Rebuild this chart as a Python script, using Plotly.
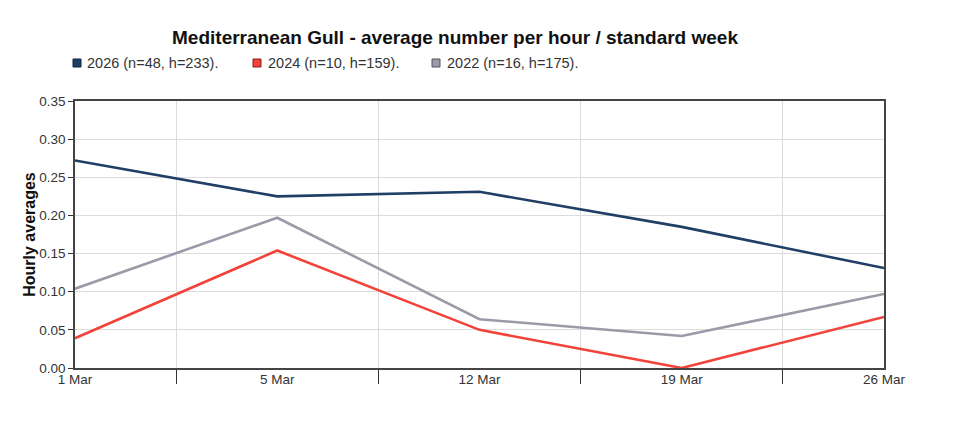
import plotly.graph_objects as go

weeks = ["1 Mar", "5 Mar", "12 Mar", "19 Mar", "26 Mar"]
y2026 = [0.272, 0.225, 0.231, 0.185, 0.131]
y2024 = [0.039, 0.154, 0.050, 0.000, 0.067]
y2022 = [0.104, 0.197, 0.064, 0.042, 0.097]
names = ["2026 (n=48, h=233).", "2024 (n=10, h=159).", "2022 (n=16, h=175)."]
colors = ["#1f3f66", "#f2433a", "#9a9aa8"]
edge = ["#0f2540", "#8a1a12", "#55555f"]
series = [y2026, y2024, y2022]

FONT = "Liberation Sans, Arial, sans-serif"

# page pixel geometry (figure sits at an 8px body offset)
OFF = 8
PL, PR, PT, PB = 75, 884, 101, 368
W, H = 955, 444
def px(x):
    return (x - PL) / (PR - PL)
def py(y):
    return (PB - y) / (PB - PT)

fig = go.Figure()
for vals, c, n in zip(series, colors, names):
    fig.add_trace(go.Scatter(x=weeks, y=vals, mode="lines", name=n,
                             line=dict(color=c, width=2.6),
                             showlegend=False))

fig.update_layout(
    width=W, height=H,
    margin=dict(l=PL - OFF, r=W + OFF - PR, t=PT - OFF, b=H + OFF - PB),
    paper_bgcolor="white", plot_bgcolor="white",
    font=dict(family=FONT, size=13, color="#333"),
    title=dict(text="<b>Mediterranean Gull - average number per hour / standard week</b>",
               x=(455 - OFF) / W, xanchor="center",
               y=1 - (37 - OFF) / H, yanchor="middle",
               font=dict(family=FONT, size=19, color="#111")),
    showlegend=False,
    xaxis=dict(type="category", categoryorder="array", categoryarray=weeks,
               range=[0, 4], tickson="boundaries", ticks="outside", ticklen=14,
               tickcolor="#333", tickwidth=1.2,
               showgrid=True, gridcolor="#dcdcdc", gridwidth=1,
               showline=True, linecolor="#444", linewidth=1.5, mirror=True,
               ticklabelstandoff=-2,
               tickfont=dict(family=FONT, size=13.5, color="#333"), zeroline=False),
    yaxis=dict(range=[0, 0.35], dtick=0.05, tickformat=".2f",
               ticks="outside", ticklen=5, tickcolor="#333",
               showgrid=True, gridcolor="#dcdcdc", gridwidth=1,
               showline=True, linecolor="#444", linewidth=1.5, mirror=True,
               zeroline=False,
               tickfont=dict(family=FONT, size=13.5, color="#333"),
               title=dict(text="<b>Hourly averages</b>", standoff=0,
                          font=dict(family=FONT, size=16, color="#111"))),
)

# legend row: coloured squares plus labels
sq_left = [73, 253, 432]
txt_left = [85, 266, 445]
for n, c, e, sx, tx in zip(names, colors, edge, sq_left, txt_left):
    fig.add_shape(type="rect", xref="paper", yref="paper",
                  xsizemode="pixel", ysizemode="pixel",
                  xanchor=px(sx), yanchor=py(63),
                  x0=0, x1=8, y0=-4, y1=4,
                  fillcolor=c, line=dict(color=e, width=1))
    fig.add_annotation(text=n, xref="paper", yref="paper",
                       x=px(tx), y=py(63), xanchor="left", yanchor="middle",
                       showarrow=False,
                       font=dict(family=FONT, size=14.5, color="#333"))

fig.write_html("out.html")
